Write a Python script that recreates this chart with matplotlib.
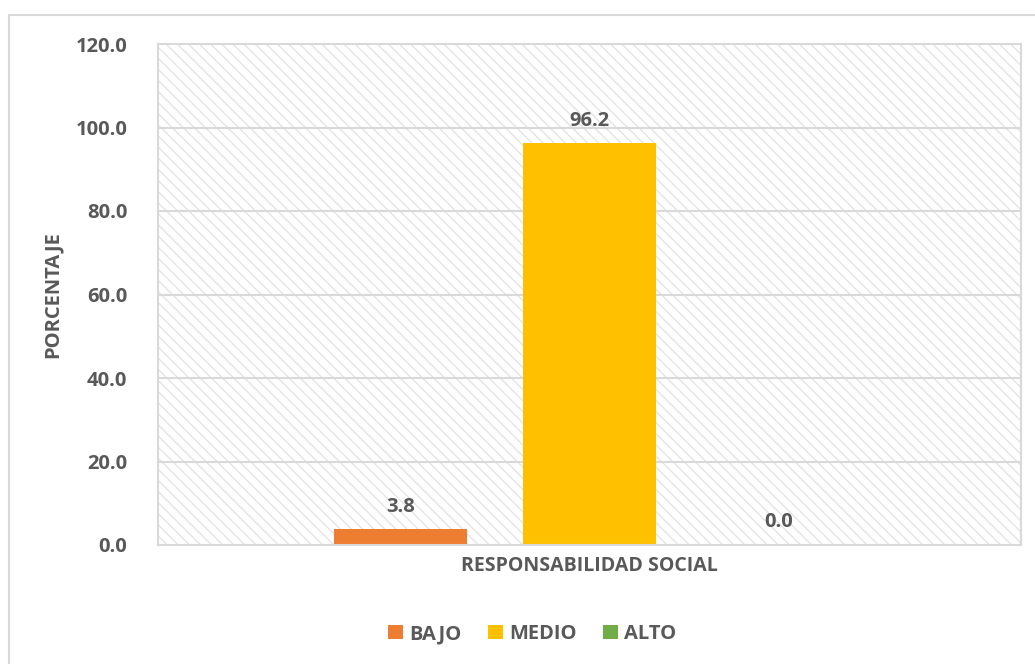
import matplotlib
matplotlib.use("Agg")
import matplotlib.pyplot as plt
from matplotlib.patches import Rectangle, Patch

categories = ["BAJO", "MEDIO", "ALTO"]
values = [3.8, 96.2, 0.0]
group_label = ["RESPONSABILIDAD SOCIAL"]
yticks = [0, 20, 40, 60, 80, 100, 120]
colors = ["#ED7D31", "#FFC000", "#70AD47"]

TXT = "#595959"
GRID = "#d9d9d9"
FONT = "Open Sans"
plt.rcParams["font.family"] = [FONT, "DejaVu Sans"]
plt.rcParams["hatch.linewidth"] = 0.9

fig = plt.figure(figsize=(10.35, 6.64), dpi=100)
fig.patch.set_facecolor("white")
# outer chart border
fig.patches.append(Rectangle((9 / 1035, -0.05), 1.1, (664 - 15) / 664 + 0.05,
                             transform=fig.transFigure, fill=False,
                             edgecolor=GRID, linewidth=1.5, zorder=0))

ax = fig.add_axes([158 / 1035, (664 - 545) / 664, 863 / 1035, (545 - 44) / 664])
ax.set_xlim(-0.5, 0.5)
ax.set_ylim(0, 120)

# hatched plot area
ax.add_patch(Rectangle((0, 0), 1, 1, transform=ax.transAxes, facecolor="white",
                       edgecolor="#e2e2e2", hatch="\\\\\\", linewidth=0, zorder=0))
for y in yticks[1:-1]:
    ax.axhline(y, color=GRID, linewidth=1.5, zorder=1)

width = 0.154
offsets = [-0.219, 0.0, 0.219]
for cat, val, col, off in zip(categories, values, colors, offsets):
    ax.bar(off, val, width=width, color=col, zorder=2, label=cat)
    ax.text(off, val + 4.2, f"{val:.1f}", ha="center", va="baseline",
            fontsize=14.5, fontweight="bold", color=TXT)

for s in ax.spines.values():
    s.set_color(GRID)
    s.set_linewidth(1.5)

ax.set_yticks(yticks)
ax.set_yticklabels([f"{v:.1f}" for v in yticks], fontsize=14.5, fontweight="bold", color=TXT)
ax.set_xticks([0])
ax.set_xticklabels(group_label, fontsize=14, fontweight="bold", color=TXT)
ax.tick_params(axis="both", length=0)
ax.tick_params(axis="y", pad=22)
ax.tick_params(axis="x", pad=8)
ax.set_ylabel("PORCENTAJE", fontsize=14.5, fontweight="bold", color=TXT, labelpad=9)

handles = [Patch(facecolor=c, edgecolor="none") for c in colors]
fig.legend(handles, categories, loc="center", bbox_to_anchor=(532 / 1035, 1 - 634 / 664),
           ncol=3, frameon=False, handlelength=0.75, handleheight=0.75,
           handletextpad=0.3, columnspacing=1.3,
           prop={"family": FONT, "weight": "bold", "size": 14.5}, labelcolor=TXT)

fig.savefig("out.png", dpi=100, facecolor="white")
